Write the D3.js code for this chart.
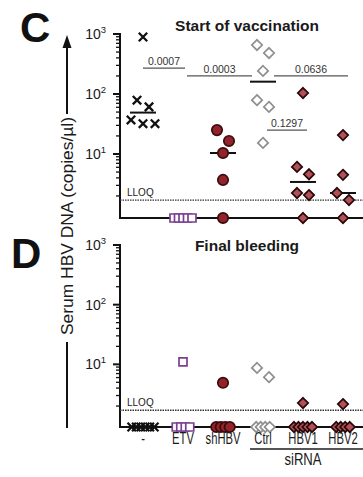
<!DOCTYPE html>
<html>
<head>
<meta charset="utf-8">
<script src="https://cdn.jsdelivr.net/npm/d3@7"></script>
<style>
  body { margin: 0; background: #fff; }
  svg { display: block; font-family: "Liberation Sans", Arial, sans-serif; }
</style>
</head>
<body>
<svg width="363" height="477"></svg>
<script>
// groups on the x axis
const categories = ['-', 'ETV', 'shHBV', 'Ctrl', 'HBV1', 'HBV2'];

// serum HBV DNA (copies/ul), 0 = below the lower limit (drawn on the axis)
const startValues = [
  [891, 79, 61, 37, 32, 32],
  [0, 0, 0, 0, 0],
  [25, 16.5, 10.4, 3.7, 0],
  [656, 482, 242, 79, 61, 15.3],
  [104, 6.1, 4.6, 2.24, 2.07, 0],
  [20.7, 4.5, 2.24, 1.71, 0]
];
const finalValues = [
  [0, 0, 0, 0, 0, 0],
  [11, 0, 0, 0, 0],
  [4.9, 0, 0, 0, 0],
  [8.7, 6.1, 0, 0, 0, 0],
  [2.25, 0, 0, 0, 0, 0],
  [2.16, 0, 0, 0, 0]
];

const yTicks = [10, 100, 1000];
const lloq = 1.7;

// p values (start of vaccination)
const pLabels = ['0.0007', '0.0003', '0.0636', '0.1297'];
const pFrom = ['-', 'ETV', 'Ctrl', 'Ctrl'];
const pTo = ['ETV', 'Ctrl', 'HBV2', 'HBV1'];
const pLevel = [270, 200, 200, 25];
// bar ends trimmed around the ctrl median
const pPads = [[0, 2], [4, -11], [11, 5], [4, 4]];

const svg = d3.select('svg');
svg.append('rect').attr('width', 363).attr('height', 477).attr('fill', '#fff');

const x = d3.scalePoint().domain(categories).range([143, 343]);

const styles = {
  '-': { shape: 'cross', fill: 'none', stroke: '#111' },
  ETV: { shape: 'square', fill: '#fff', stroke: '#7b3f91' },
  shHBV: { shape: 'circle', fill: '#92232a', stroke: '#3b0b0e' },
  Ctrl: { shape: 'diamond', fill: '#fff', stroke: '#8e8e8e' },
  HBV1: { shape: 'diamond', fill: '#b24f57', stroke: '#250808' },
  HBV2: { shape: 'diamond', fill: '#b24f57', stroke: '#250808' }
};

function markerPath(shape) {
  if (shape === 'diamond') return 'M0,-5.2L5.2,0L0,5.2L-5.2,0Z';
  if (shape === 'square') return 'M-4,-4H4V4H-4Z';
  if (shape === 'cross') return 'M-4.2,-4.2L4.2,4.2M4.2,-4.2L-4.2,4.2';
  return d3.symbol().type(d3.symbolCircle).size(85)();
}

// rows of points that sit close together are spread out sideways
function spread(vals, y, baseY) {
  const pts = vals.map((v) => ({ v, py: v > 0 ? y(v) : baseY }))
    .sort((a, b) => a.py - b.py);
  const rows = [];
  pts.forEach((p) => {
    const row = rows[rows.length - 1];
    if (row && p.py - row[0].py < 12 && (p.v > 0) === (row[0].v > 0)) row.push(p);
    else rows.push([p]);
  });
  rows.forEach((row) => {
    const step = row[0].v > 0 ? 12 : 4.5;
    row.forEach((p, i) => { p.dx = (i - (row.length - 1) / 2) * step; });
  });
  return pts;
}

function drawPanel(values, top, y1, baseY, title, titleY) {
  const y = d3.scaleLog().domain([1, 1000]).range([y1, top]);
  const g = svg.append('g');

  // minor ticks
  const minor = [];
  [1, 10, 100].forEach((d) => { for (let k = 2; k <= 9; k++) minor.push(d * k); });
  g.selectAll('.minor').data(minor).enter().append('line')
    .attr('x1', 116).attr('x2', 120)
    .attr('y1', (d) => y(d)).attr('y2', (d) => y(d))
    .attr('stroke', '#111').attr('stroke-width', 1.3);
  g.selectAll('.major').data(yTicks).enter().append('line')
    .attr('x1', 113).attr('x2', 120)
    .attr('y1', (d) => y(d)).attr('y2', (d) => y(d))
    .attr('stroke', '#111').attr('stroke-width', 2);

  const lab = g.selectAll('.ylab').data(yTicks).enter().append('text')
    .attr('x', 106).attr('y', (d) => y(d) + 5)
    .attr('text-anchor', 'end').attr('font-size', 14).attr('fill', '#1a1a1a');
  lab.append('tspan').text('10');
  lab.append('tspan').attr('dy', -6).attr('font-size', 9.5)
    .text((d) => Math.round(Math.log10(d)));

  // axes
  g.append('path')
    .attr('d', `M120,${top - 1}V${baseY}H363`)
    .attr('fill', 'none').attr('stroke', '#111').attr('stroke-width', 2);

  // LLOQ
  g.append('line')
    .attr('x1', 120).attr('x2', 363)
    .attr('y1', y(lloq)).attr('y2', y(lloq))
    .attr('stroke', '#333').attr('stroke-width', 1.4)
    .attr('stroke-dasharray', '1.5,1');
  g.append('text').attr('x', 127).attr('y', y(lloq) - 4)
    .attr('font-size', 10).attr('fill', '#222').text('LLOQ');

  g.append('text').attr('x', 247).attr('y', titleY)
    .attr('text-anchor', 'middle').attr('font-size', 15.5)
    .attr('font-weight', 'bold').attr('fill', '#1a1a1a').text(title);

  // medians
  values.forEach((vals, i) => {
    const m = d3.median(vals);
    if (!(m > 0)) return;
    g.append('line')
      .attr('x1', x(categories[i]) - 13).attr('x2', x(categories[i]) + 13)
      .attr('y1', y(m)).attr('y2', y(m))
      .attr('stroke', '#111').attr('stroke-width', 2);
  });

  // points
  values.forEach((vals, i) => {
    const c = categories[i];
    const st = styles[c];
    const pts = spread(vals, y, baseY);
    g.selectAll(null).data(pts).enter().append('path')
      .attr('d', markerPath(st.shape))
      .attr('transform', (p) => `translate(${x(c) + p.dx},${p.py})`)
      .attr('fill', st.fill)
      .attr('stroke', st.stroke)
      .attr('stroke-width', st.shape === 'cross' ? 2.3 : 1.7);
  });
  return y;
}

const yC = drawPanel(startValues, 34, 214, 218, 'Start of vaccination', 31);
drawPanel(finalValues, 245, 424, 427, 'Final bleeding', 251);

// p value bars
pLabels.forEach((p, i) => {
  const x1 = x(pFrom[i]) + pPads[i][0];
  const x2 = x(pTo[i]) + pPads[i][1];
  const ly = yC(pLevel[i]);
  svg.append('line').attr('x1', x1).attr('x2', x2).attr('y1', ly).attr('y2', ly)
    .attr('stroke', '#555').attr('stroke-width', 1.3);
  svg.append('text').attr('x', (x1 + x2) / 2).attr('y', ly - 3)
    .attr('text-anchor', 'middle').attr('font-size', 10.5).attr('fill', '#333').text(p);
});

// category labels (narrow type)
svg.selectAll('.cat').data(categories).enter().append('text')
  .attr('transform', (d) => `translate(${x(d)},444) scale(0.68,1)`)
  .attr('text-anchor', 'middle').attr('font-size', 16.5).attr('fill', '#1a1a1a')
  .text((d) => d);
svg.append('line').attr('x1', x('Ctrl') - 13).attr('x2', 363)
  .attr('y1', 449).attr('y2', 449).attr('stroke', '#555').attr('stroke-width', 2);
svg.append('text')
  .attr('transform', `translate(${(x('Ctrl') + x('HBV2')) / 2},465) scale(0.82,1)`)
  .attr('text-anchor', 'middle').attr('font-size', 16).attr('fill', '#1a1a1a').text('siRNA');

// y label with arrow
const yl = svg.append('g');
yl.append('text')
  .attr('transform', 'translate(73,226) rotate(-90)')
  .attr('text-anchor', 'middle').attr('font-size', 16).attr('fill', '#1a1a1a')
  .attr('textLength', 218).attr('lengthAdjust', 'spacingAndGlyphs')
  .text('Serum HBV DNA (copies/µl)');
yl.append('line').attr('x1', 67).attr('x2', 67).attr('y1', 342).attr('y2', 428)
  .attr('stroke', '#111').attr('stroke-width', 2);
yl.append('line').attr('x1', 67).attr('x2', 67).attr('y1', 114).attr('y2', 46)
  .attr('stroke', '#111').attr('stroke-width', 2);
yl.append('path').attr('d', 'M67,35L71.5,48H62.5Z').attr('fill', '#111');

// panel letters
svg.append('text').attr('x', 20).attr('y', 42).attr('font-size', 42)
  .attr('font-weight', 'bold').attr('fill', '#111').text('C');
svg.append('text').attr('x', 11).attr('y', 268).attr('font-size', 42)
  .attr('font-weight', 'bold').attr('fill', '#111').text('D');
</script>
</body>
</html>
